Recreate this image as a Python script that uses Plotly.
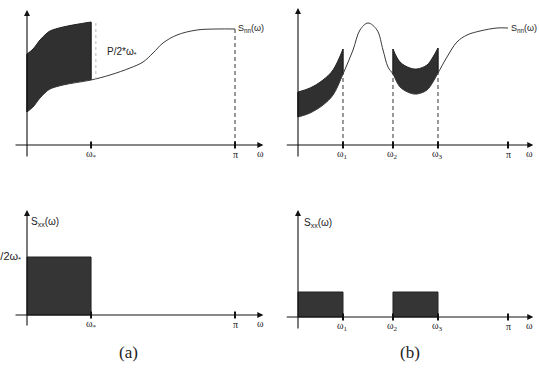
import plotly.graph_objects as go
import numpy as np

# ---------------- data ----------------
# Panel (a): noise spectrum S_nn(w)
a_w = [0.0, 0.091, 0.196, 0.287, 0.347, 0.544, 0.967, 1.254, 1.556, 1.752, 1.903, 2.054, 2.266, 2.568, 2.870, np.pi]
a_snn = [0.33, 0.38, 0.47, 0.53, 0.56, 0.60, 0.65, 0.70, 0.77, 0.83, 0.92, 1.02, 1.10, 1.15, 1.16, 1.16]
a_wstar = 0.967
a_level = 0.58          # P / (2 w*)

# Panel (b): noise spectrum S_nn(w)
b_w = [0.0, 0.18, 0.374, 0.524, 0.673, 0.823, 0.927, 1.047, 1.182, 1.272, 1.346, 1.421,
       1.526, 1.675, 1.780, 1.930, 2.019, 2.094, 2.229, 2.378, 2.528, 2.723, 2.977, np.pi]
b_snn = [0.28, 0.32, 0.40, 0.50, 0.71, 0.95, 1.15, 1.22, 1.15, 0.95, 0.78, 0.71,
         0.58, 0.52, 0.51, 0.55, 0.63, 0.72, 0.88, 1.03, 1.10, 1.14, 1.17, 1.17]
b_bands = [(0.0, 0.673), (1.421, 2.094)]   # (w_start, w_end) of filled bands
b_level = 0.25

a_ticks = [a_wstar, np.pi]
a_ticklabels = ["ω<sub>*</sub>", "π"]
b_ticks = [0.673, 1.421, 2.094, np.pi]
b_ticklabels = ["ω<sub>1</sub>", "ω<sub>2</sub>", "ω<sub>3</sub>", "π"]

# ---------------- figure ----------------
W, H = 539, 369
fig = go.Figure()

FILL = "#303030"
LINE = "#3a3a3a"
serif = "Liberation Serif"
sans = "Liberation Sans"

def py(p):
    return 1 - p / H

layout_axes = {
    "xaxis":  dict(domain=[0, 270 / W], range=[-0.408, 3.670]),
    "yaxis":  dict(domain=[py(170), 1], range=[-0.25, 1.45]),
    "xaxis2": dict(domain=[0, 270 / W], range=[-0.408, 3.670]),
    "yaxis2": dict(domain=[0, py(170)], range=[-0.54, 1.45]),
    "xaxis3": dict(domain=[270 / W, 1], range=[-0.4188, 3.605]),
    "yaxis3": dict(domain=[py(170), 1], range=[-0.25, 1.45]),
    "xaxis4": dict(domain=[270 / W, 1], range=[-0.4188, 3.605]),
    "yaxis4": dict(domain=[0, py(170)], range=[-0.52, 1.47]),
}
for k, v in layout_axes.items():
    v.update(visible=False, fixedrange=True)
    if k.startswith("x"):
        v["anchor"] = "y" + k[5:]
    else:
        v["anchor"] = "x" + k[5:]

annotations = []

def add_band(xref, yref, w, s, lo, hi, level):
    idx = [i for i, x in enumerate(w) if lo - 1e-9 <= x <= hi + 1e-9]
    xs = [w[i] for i in idx]
    lower = [s[i] for i in idx]
    upper = [s[i] + level for i in idx]
    fig.add_trace(go.Scatter(x=xs, y=lower, mode="lines", line=dict(width=0, shape="spline"),
                             xaxis=xref, yaxis=yref, showlegend=False, hoverinfo="skip"))
    fig.add_trace(go.Scatter(x=xs, y=upper, mode="lines", fill="tonexty", fillcolor=FILL,
                             line=dict(width=1, color="#222", shape="spline"),
                             xaxis=xref, yaxis=yref, showlegend=False, hoverinfo="skip"))
    for j in (0, -1):
        fig.add_trace(go.Scatter(x=[xs[j], xs[j]], y=[lower[j], upper[j]], mode="lines",
                                 line=dict(width=1.5, color="#222"),
                                 xaxis=xref, yaxis=yref, showlegend=False, hoverinfo="skip"))

def add_axes(xref, yref, x0, x1, y0, y1, ticks, labels):
    # x axis arrow
    annotations.append(dict(x=x1, y=0, ax=x0, ay=0, xref=xref, yref=yref,
                            axref=xref, ayref=yref, showarrow=True, text="",
                            arrowhead=2, arrowsize=1.1, arrowwidth=1.1, arrowcolor="#111", standoff=0))
    # y axis arrow
    annotations.append(dict(x=0, y=y1, ax=0, ay=y0, xref=xref, yref=yref,
                            axref=xref, ayref=yref, showarrow=True, text="",
                            arrowhead=2, arrowsize=1.1, arrowwidth=1.1, arrowcolor="#111", standoff=0))
    tx, ty = [], []
    for t in ticks:
        tx += [t, t, None]
        ty += [-0.035, 0.035, None]
    fig.add_trace(go.Scatter(x=tx, y=ty, mode="lines", line=dict(width=2, color="#111"),
                             xaxis=xref, yaxis=yref, showlegend=False, hoverinfo="skip"))
    for t, lab in zip(ticks, labels):
        annotations.append(dict(x=t, y=-0.095, xref=xref, yref=yref, text=lab,
                                showarrow=False, yanchor="middle", xanchor="center",
                                font=dict(family=serif, size=10, color="#222")))
    annotations.append(dict(x=x1 - 0.05, y=-0.085, xref=xref, yref=yref, text="ω",
                            showarrow=False, yanchor="middle", xanchor="center",
                            font=dict(family=serif, size=10, color="#222")))

# ---- Panel (a) top ----
add_band("x", "y", a_w, a_snn, 0.0, a_wstar, a_level)
fig.add_trace(go.Scatter(x=a_w, y=a_snn, mode="lines", line=dict(width=1, color=LINE, shape="spline"),
                         xaxis="x", yaxis="y", showlegend=False, hoverinfo="skip"))
fig.add_trace(go.Scatter(x=[np.pi, np.pi], y=[0, a_snn[-1]], mode="lines",
                         line=dict(width=1, color="#333", dash="4px,3px"),
                         xaxis="x", yaxis="y", showlegend=False, hoverinfo="skip"))
fig.add_trace(go.Scatter(x=[1.04, 1.04], y=[0.65, 0.65 + a_level], mode="lines",
                         line=dict(width=1, color="#bbb", dash="dot"),
                         xaxis="x", yaxis="y", showlegend=False, hoverinfo="skip"))
add_axes("x", "y", -0.196, 3.57, -0.13, 1.35, a_ticks, a_ticklabels)
annotations.append(dict(x=1.18, y=0.93, xref="x", yref="y", text="P/2*ω<sub>*</sub>", showarrow=False,
                        xanchor="left", yanchor="middle", font=dict(family=sans, size=10, color="#222")))
annotations.append(dict(x=3.155, y=1.17, xref="x", yref="y", text="S<sub>nn</sub>(ω)", showarrow=False,
                        xanchor="left", yanchor="middle", font=dict(family=sans, size=9, color="#222")))

# ---- Panel (a) bottom ----
fig.add_trace(go.Scatter(x=[0, 0, a_wstar, a_wstar, 0], y=[0, a_level, a_level, 0, 0], mode="lines",
                         fill="toself", fillcolor="#353535", line=dict(width=1, color="#222"),
                         xaxis="x2", yaxis="y2", showlegend=False, hoverinfo="skip"))
add_axes("x2", "y2", -0.196, 3.57, -0.12, 1.05, a_ticks, a_ticklabels)
annotations.append(dict(x=0.03, y=0.93, xref="x2", yref="y2", text="S<sub>xx</sub>(ω)", showarrow=False,
                        xanchor="left", yanchor="middle", font=dict(family=sans, size=10, color="#222")))
annotations.append(dict(x=-0.06, y=a_level, xref="x2", yref="y2", text="P/2ω<sub>*</sub>", showarrow=False,
                        xanchor="right", yanchor="middle", font=dict(family=sans, size=11, color="#222")))

# ---- Panel (b) top ----
for lo, hi in b_bands:
    add_band("x3", "y3", b_w, b_snn, lo, hi, b_level)
fig.add_trace(go.Scatter(x=b_w, y=b_snn, mode="lines", line=dict(width=1, color=LINE, shape="spline"),
                         xaxis="x3", yaxis="y3", showlegend=False, hoverinfo="skip"))
dx, dy = [], []
for lo, hi in b_bands:
    for edge in (lo, hi):
        if edge > 0:
            i = min(range(len(b_w)), key=lambda k: abs(b_w[k] - edge))
            dx += [edge, edge, None]
            dy += [0, b_snn[i], None]
fig.add_trace(go.Scatter(x=dx, y=dy, mode="lines", line=dict(width=1, color="#333", dash="4px,3px"),
                         xaxis="x3", yaxis="y3", showlegend=False, hoverinfo="skip"))
add_axes("x3", "y3", -0.19, 3.52, -0.13, 1.37, b_ticks, b_ticklabels)
annotations.append(dict(x=3.15, y=1.17, xref="x3", yref="y3", text="S<sub>nn</sub>(ω)", showarrow=False,
                        xanchor="left", yanchor="middle", font=dict(family=sans, size=9, color="#222")))

# ---- Panel (b) bottom ----
for lo, hi in b_bands:
    fig.add_trace(go.Scatter(x=[lo, lo, hi, hi, lo], y=[0, b_level, b_level, 0, 0], mode="lines",
                             fill="toself", fillcolor="#353535", line=dict(width=1, color="#222"),
                             xaxis="x4", yaxis="y4", showlegend=False, hoverinfo="skip"))
add_axes("x4", "y4", -0.19, 3.52, -0.13, 1.07, b_ticks, b_ticklabels)
annotations.append(dict(x=0.06, y=0.94, xref="x4", yref="y4", text="S<sub>xx</sub>(ω)", showarrow=False,
                        xanchor="left", yanchor="middle", font=dict(family=sans, size=10, color="#222")))

# captions
annotations.append(dict(x=128 / W, y=1 - 352 / H, xref="paper", yref="paper", text="(a)", showarrow=False,
                        xanchor="center", yanchor="middle", font=dict(family=serif, size=17, color="#222")))
annotations.append(dict(x=410 / W, y=1 - 352 / H, xref="paper", yref="paper", text="(b)", showarrow=False,
                        xanchor="center", yanchor="middle", font=dict(family=serif, size=17, color="#222")))

fig.update_layout(width=W, height=H, margin=dict(l=0, r=0, t=0, b=0),
                  paper_bgcolor="white", plot_bgcolor="white",
                  annotations=annotations, **layout_axes)

fig.write_html("out.html", config={"displayModeBar": False})
